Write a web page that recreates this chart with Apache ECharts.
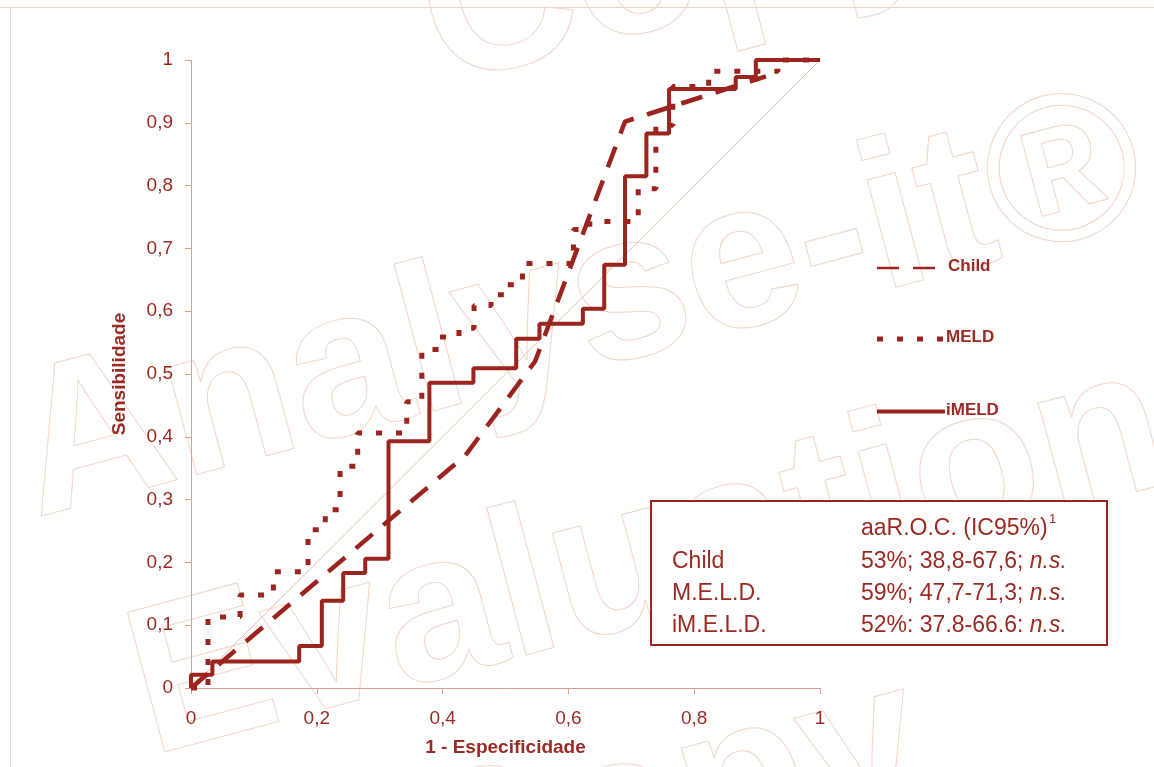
<!DOCTYPE html>
<html>
<head>
<meta charset="utf-8">
<script src="https://cdn.jsdelivr.net/npm/echarts@6/dist/echarts.min.js"></script>
<style>
  html, body { margin: 0; padding: 0; background: #ffffff; }
  #chart { width: 1154px; height: 767px; }
</style>
</head>
<body>
<div id="chart"></div>
<script>
// ROC curves: 1 - specificity (fpr) against sensitivity (tpr)
const childFpr = [0, 0.436, 0.547, 0.690, 0.914];
const childTpr = [0, 0.370, 0.520, 0.902, 0.974];

const meldFpr = [0, 0.027, 0.078, 0.131, 0.186, 0.2135, 0.237, 0.265, 0.343, 0.367, 0.395, 0.426,
                 0.450, 0.477, 0.502, 0.527, 0.608, 0.634, 0.711, 0.739, 0.766, 0.823, 0.933, 1];
const meldTpr = [0, 0.113, 0.148, 0.185, 0.252, 0.284, 0.353, 0.406, 0.456, 0.539, 0.559, 0.573,
                 0.609, 0.626, 0.642, 0.676, 0.730, 0.743, 0.795, 0.896, 0.958, 0.982, 1, 1];

const imeldFpr = [0, 0, 0.034, 0.172, 0.208, 0.242, 0.277, 0.314, 0.379, 0.449, 0.517, 0.554,
                  0.623, 0.657, 0.690, 0.724, 0.760, 0.866, 0.898, 1];
const imeldTpr = [0, 0.021, 0.042, 0.067, 0.139, 0.183, 0.206, 0.393, 0.486, 0.509, 0.556, 0.580,
                  0.604, 0.674, 0.815, 0.883, 0.954, 0.973, 1, 1];

const diagonal = [[0, 0], [1, 1]];

const seriesNames = ['Child', 'MELD', 'iMELD'];

const xTickLabels = ['0', '0,2', '0,4', '0,6', '0,8', '1'];
const yTickLabels = ['0', '0,1', '0,2', '0,3', '0,4', '0,5', '0,6', '0,7', '0,8', '0,9', '1'];

const tableHeader = 'aaR.O.C. (IC95%)';
const tableLabels = ['Child', 'M.E.L.D.', 'iM.E.L.D.'];
const tableValues = ['53%; 38,8-67,6; ', '59%; 47,7-71,3; ', '52%: 37.8-66.6: '];
const tableNote = 'n.s.';

// styling
const lineColor = '#9B241E';
const textColor = '#9B2A24';
const axisColor = '#D7A090';
const diagColor = '#E9BCA9';
const wmColor = '#F3D6CA';
const font = '"Liberation Sans", Arial, sans-serif';

const childStyle = { color: lineColor, width: 4.5, type: [22, 14], cap: 'butt' };
const meldStyle = { color: lineColor, width: 5, type: [6, 14], cap: 'butt' };
const imeldStyle = { color: lineColor, width: 4, type: 'solid', cap: 'butt' };

const zip = (xs, ys) => xs.map((x, i) => [x, ys[i]]);

// outlined watermark text, placed by its baseline start and tilt
function watermark(text, bx, by) {
  const a = 15 * Math.PI / 180;
  const half = 0.347 * 210;
  return {
    type: 'text',
    x: bx - half * Math.sin(a),
    y: by - half * Math.cos(a),
    rotation: a,
    z: -10,
    silent: true,
    style: {
      text: text,
      font: 'bold 210px ' + font,
      fill: 'rgba(0,0,0,0)',
      stroke: wmColor,
      lineWidth: 1,
      align: 'left', verticalAlign: 'middle',
      textAlign: 'left', textVerticalAlign: 'middle'
    }
  };
}

function label(text, x, y, opts) {
  return {
    type: 'text', x: x, y: y, z: 20, silent: true,
    style: Object.assign({
      text: text, font: '23px ' + font, fill: textColor,
      align: 'left', verticalAlign: 'middle',
      textAlign: 'left', textVerticalAlign: 'middle'
    }, opts || {})
  };
}

const legendY = [268, 339, 411.5];
const legendStyles = [childStyle, meldStyle, imeldStyle];
const legendEls = [];
seriesNames.forEach((name, i) => {
  const s = legendStyles[i];
  legendEls.push({
    type: 'line', z: 20, silent: true,
    shape: { x1: 877, y1: legendY[i], x2: i === 0 ? 939 : 945, y2: legendY[i] },
    style: {
      stroke: s.color,
      lineWidth: i === 0 ? 2.5 : s.width,
      lineDash: s.type === 'solid' ? null : s.type,
      lineCap: 'butt'
    }
  });
  legendEls.push(label(name, i === 0 ? 948 : 946, legendY[i] - 1.5,
    { font: 'bold 17px ' + font }));
});

const rowY = [529, 562, 593.7, 625.3];
const tableEls = [
  {
    type: 'rect', z: 15, silent: true,
    shape: { x: 651, y: 501, width: 456, height: 144 },
    style: { fill: '#ffffff', stroke: lineColor, lineWidth: 2 }
  },
  label(tableHeader, 861, rowY[0]),
  label('1', 1049, rowY[0] - 10, { font: '13px ' + font })
];
tableLabels.forEach((t, i) => {
  tableEls.push(label(t, 672, rowY[i + 1]));
  tableEls.push(label('{v|' + tableValues[i] + '}{n|' + tableNote + '}', 861, rowY[i + 1], {
    rich: {
      v: { fontSize: 23, fontFamily: font, fill: textColor },
      n: { fontSize: 23, fontFamily: font, fontStyle: 'italic', fill: textColor }
    }
  }));
});

const frameEls = [
  { type: 'line', z: -10, silent: true, shape: { x1: 0, y1: 7.5, x2: 1154, y2: 7.5 },
    style: { stroke: '#EFD3C7', lineWidth: 1 } },
  { type: 'line', z: -10, silent: true, shape: { x1: 10.5, y1: 7.5, x2: 10.5, y2: 767 },
    style: { stroke: '#EFD3C7', lineWidth: 1 } }
];

const wmEls = [
  watermark('Copy', 446, 100),
  watermark('Analyse-it®', 40, 532),
  watermark('Evaluation', 155, 770),
  watermark('Copy', 430, 946)
];

const chart = echarts.init(document.getElementById('chart'), null, { renderer: 'canvas' });

chart.setOption({
  animation: false,
  backgroundColor: '#ffffff',
  grid: { left: 191, top: 60, width: 629, height: 628, containLabel: false, outerBoundsMode: 'none' },
  xAxis: {
    type: 'value', min: 0, max: 1, interval: 0.2,
    name: '1 - Especificidade', nameLocation: 'middle', nameGap: 50,
    nameTextStyle: { color: textColor, fontSize: 19, fontWeight: 'bold', fontFamily: font },
    axisLine: { show: true, onZero: false, lineStyle: { color: axisColor, width: 1 } },
    axisTick: { show: true, inside: false, length: 6, lineStyle: { color: axisColor, width: 1 } },
    splitLine: { show: false },
    axisLabel: {
      color: textColor, fontSize: 19, fontFamily: font, margin: 21,
      formatter: v => xTickLabels[Math.round(v / 0.2)]
    }
  },
  yAxis: {
    type: 'value', min: 0, max: 1, interval: 0.1,
    name: 'Sensibilidade', nameLocation: 'middle', nameGap: 62, nameRotate: 90,
    nameTextStyle: { color: textColor, fontSize: 19, fontWeight: 'bold', fontFamily: font },
    axisLine: { show: true, onZero: false, lineStyle: { color: axisColor, width: 1 } },
    axisTick: { show: true, inside: false, length: 6, lineStyle: { color: axisColor, width: 1 } },
    splitLine: { show: false },
    axisLabel: {
      color: textColor, fontSize: 19, fontFamily: font, margin: 18,
      formatter: v => yTickLabels[Math.round(v / 0.1)]
    }
  },
  series: [
    {
      name: 'reference', type: 'line', data: diagonal, symbol: 'none', silent: true, z: 1,
      lineStyle: { color: diagColor, width: 1 }
    },
    {
      name: seriesNames[0], type: 'line', data: zip(childFpr, childTpr),
      symbol: 'none', clip: false, silent: true, z: 3, lineStyle: childStyle
    },
    {
      name: seriesNames[1], type: 'line', step: 'end', data: zip(meldFpr, meldTpr),
      symbol: 'none', clip: false, silent: true, z: 4, lineStyle: meldStyle
    },
    {
      name: seriesNames[2], type: 'line', step: 'end', data: zip(imeldFpr, imeldTpr),
      symbol: 'none', clip: false, silent: true, z: 5, lineStyle: imeldStyle
    }
  ],
  graphic: { elements: [].concat(frameEls, wmEls, legendEls, tableEls) }
});
</script>
</body>
</html>
